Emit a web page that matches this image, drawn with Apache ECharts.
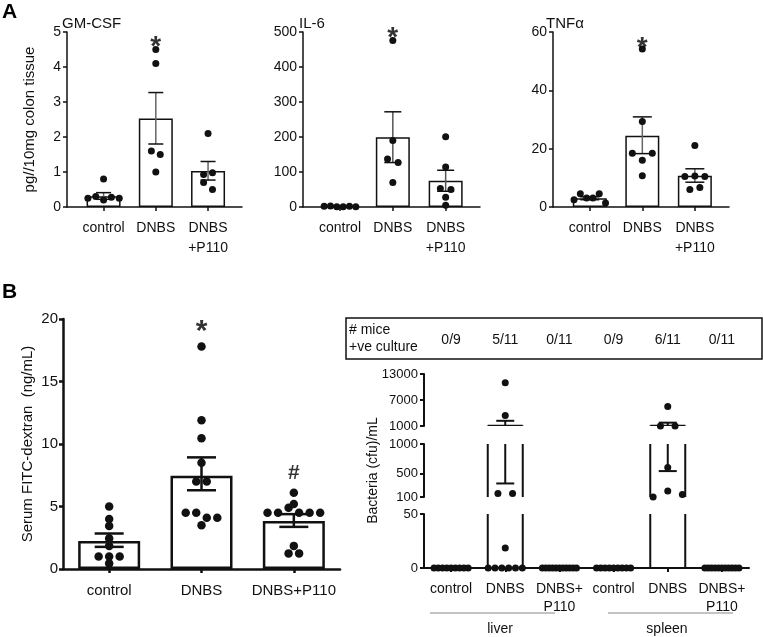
<!DOCTYPE html>
<html>
<head>
<meta charset="utf-8">
<script src="https://cdn.jsdelivr.net/npm/echarts@6/dist/echarts.min.js"></script>
<style>
  html, body { margin: 0; padding: 0; background: #fff; }
  #main { width: 763px; height: 637px; }
</style>
</head>
<body>
<div id="main"></div>
<script>
var chartDom = document.getElementById('main');
var myChart = echarts.init(chartDom);
var option;

var groups = ['control', 'DNBS', 'DNBS\n+P110'];

// Panel A - GM-CSF
var gmMean = [0.31, 2.53, 1.03];
var gmLow = [0.22, 1.8, 0.77];
var gmHigh = [0.41, 3.27, 1.3];
var gmDots = [
  [0.8, 0.25, 0.3, 0.2, 0.28, 0.25],
  [4.5, 4.1, 1.6, 1.5, 1.0],
  [2.1, 0.93, 0.98, 0.7, 0.5]
];

// Panel A - IL-6
var il6Mean = [2, 199, 75];
var il6Low = [1, 127, 45];
var il6High = [3, 272, 105];
var il6Dots = [
  [2, 3, 1, 0.5, 2, 1],
  [476, 190, 137, 127, 70],
  [201, 114, 53, 50, 28, 5]
];

// Panel A - TNFa
var tnfMean = [3.0, 24.4, 10.7];
var tnfLow = [2.5, 18.3, 8.5];
var tnfHigh = [3.5, 30.9, 13.1];
var tnfDots = [
  [2.5, 4.56, 3.1, 3.1, 4.56, 1.37],
  [54.2, 29.3, 18.4, 16, 18.4, 10.7],
  [21.1, 10.5, 10.6, 10.5, 6.0, 6.7]
];

// Panel B - FITC-dextran
var fitcGroups = ['control', 'DNBS', 'DNBS+P110'];
var fitcMean = [2.25, 7.46, 3.85];
var fitcLow = [1.77, 6.3, 3.37];
var fitcHigh = [2.84, 8.93, 4.39];
var fitcDots = [
  [5.0, 3.45, 4.0, 2.45, 1.85, 1.0, 1.0, 1.0, 0.45],
  [17.8, 11.9, 10.46, 8.5, 7.0, 7.0, 4.5, 4.5, 4.1, 4.1, 3.5],
  [6.1, 4.5, 5.2, 4.5, 4.9, 4.5, 4.5, 4.5, 1.85, 1.25, 1.25]
];

// Panel B - bacteria
var bactGroups = ['control', 'DNBS', 'DNBS+\nP110', 'control', 'DNBS', 'DNBS+\nP110'];
var cultures = ['0/9', '5/11', '0/11', '0/9', '6/11', '0/11'];
var bactMean = [0, 1080, 0, 0, 1080, 0];
var bactLow = [0, 330, 0, 0, 540, 0];
var bactHigh = [0, 2200, 0, 0, 1770, 0];
var bactDots = [
  [0, 0, 0, 0, 0, 0, 0, 0, 0],
  [11000, 3400, 160, 160, 18.6, 0, 0, 0, 0, 0, 0],
  [0, 0, 0, 0, 0, 0, 0, 0, 0, 0, 0],
  [0, 0, 0, 0, 0, 0, 0, 0, 0],
  [5500, 1010, 1010, 600, 100, 202, 141],
  [0, 0, 0, 0, 0, 0, 0, 0, 0, 0, 0]
];

var ink = '#111';
var font = 'Liberation Sans, Arial, sans-serif';

// dots with close values are set side by side in a row around the group centre
function swarm(lists, close, step, maxWidth) {
  var pts = [];
  lists.forEach(function (values, g) {
    var rows = [];
    values.forEach(function (v) {
      var row = rows.find(function (r) { return close(r[0], v); });
      if (row) row.push(v); else rows.push([v]);
    });
    rows.forEach(function (r) {
      var s = r.length > 1 ? Math.min(step, maxWidth / (r.length - 1)) : 0;
      r.forEach(function (v, k) {
        pts.push([g + 1 + (k - (r.length - 1) / 2) * s, v]);
      });
    });
  });
  return pts;
}

function errorSeries(idx, mean, low, high, cap, width, stemColor, outline) {
  var rows = [];
  mean.forEach(function (m, k) {
    if (!outline || m > 0) rows.push([k + 1, m, low[k], high[k]]);
  });
  return {
    type: 'custom',
    xAxisIndex: idx,
    yAxisIndex: idx,
    clip: true,
    z: 3,
    data: rows,
    encode: { x: 0, y: [1, 2, 3] },
    renderItem: function (params, api) {
      var x = api.value(0);
      var hi = api.coord([x, api.value(3)]);
      var lo = api.coord([x, api.value(2)]);
      var st = { stroke: ink, lineWidth: width };
      var kids = [
        { type: 'line', shape: { x1: hi[0], y1: hi[1], x2: lo[0], y2: lo[1] }, style: { stroke: stemColor, lineWidth: width } },
        { type: 'line', shape: { x1: hi[0] - cap / 2, y1: hi[1], x2: hi[0] + cap / 2, y2: hi[1] }, style: st },
        { type: 'line', shape: { x1: lo[0] - cap / 2, y1: lo[1], x2: lo[0] + cap / 2, y2: lo[1] }, style: st }
      ];
      if (outline) {
        var base = api.coord([x, 0]);
        var top = api.coord([x, api.value(1)]);
        var h = outline / 2;
        kids.push(
          { type: 'line', shape: { x1: base[0] - h, y1: base[1], x2: top[0] - h, y2: top[1] }, style: st },
          { type: 'line', shape: { x1: base[0] + h, y1: base[1], x2: top[0] + h, y2: top[1] }, style: st },
          { type: 'line', shape: { x1: top[0] - h, y1: top[1], x2: top[0] + h, y2: top[1] }, style: st }
        );
      }
      return { type: 'group', children: kids };
    }
  };
}

function catAxis(idx, min, max, labels, opts) {
  var ticks = labels.map(function (l, k) { return k + 1; });
  return {
    type: 'value', gridIndex: idx, min: min, max: max,
    splitLine: { show: false },
    axisLine: { show: true, onZero: false, lineStyle: { color: ink, width: opts.line } },
    axisTick: { show: true, length: 4, customValues: ticks, lineStyle: { color: ink, width: opts.line } },
    axisLabel: {
      customValues: ticks,
      formatter: function (v) { return labels[Math.round(v) - 1]; },
      margin: opts.margin, fontSize: opts.size, lineHeight: opts.lh, color: ink, fontFamily: font
    }
  };
}

function valAxis(idx, min, max, interval, opts) {
  var ax = {
    type: 'value', gridIndex: idx, min: min, max: max, interval: interval,
    splitLine: { show: false },
    axisLine: { show: true, lineStyle: { color: ink, width: opts.line } },
    axisTick: { show: true, length: 4, lineStyle: { color: ink, width: opts.line } },
    axisLabel: {
      margin: opts.margin, fontSize: opts.size, color: ink, fontFamily: font,
      formatter: function (v) { return String(v); }
    }
  };
  if (opts.custom) {
    delete ax.interval;
    ax.axisTick.customValues = opts.custom;
    ax.axisLabel.customValues = opts.custom;
  }
  if (opts.name) {
    ax.name = opts.name;
    ax.nameLocation = 'middle';
    ax.nameGap = opts.nameGap;
    ax.nameTextStyle = { fontSize: opts.nameSize, color: ink, fontFamily: font };
  }
  return ax;
}

function barSeries(idx, mean, width, border) {
  return {
    type: 'bar', xAxisIndex: idx, yAxisIndex: idx, z: 2,
    barWidth: width,
    data: mean.map(function (m, k) { return [k + 1, m]; }),
    itemStyle: { color: '#fff', borderColor: ink, borderWidth: border }
  };
}

function dotSeries(idx, pts, size) {
  return {
    type: 'scatter', xAxisIndex: idx, yAxisIndex: idx, z: 4,
    symbolSize: size, data: pts, clip: false,
    itemStyle: { color: '#111', opacity: 1 }
  };
}

function markSeries(idx, pts, text, size) {
  return {
    type: 'scatter', xAxisIndex: idx, yAxisIndex: idx, z: 5,
    symbolSize: 1, data: pts,
    itemStyle: { color: 'rgba(0,0,0,0)' },
    label: { show: true, position: 'inside', formatter: text, fontSize: size, fontWeight: 'bold', color: '#000', fontFamily: font }
  };
}

function nearA(range) {
  return function (a, b) { return Math.abs(a - b) < range * 0.04; };
}
// rough height in px over the broken bacteria axis, only used to spot overlapping dots
function bactHeight(v) {
  if (v <= 50) return v / 50 * 54;
  if (v <= 1000) return 70 + (v - 100) / 900 * 53;
  return 140 + (v - 1000) / 12000 * 52;
}
function nearBact(a, b) {
  return Math.abs(bactHeight(a) - bactHeight(b)) < 7;
}

var aX = { line: 1.5, margin: 11, size: 14, lh: 20 };
var bactPts = swarm(bactDots, nearBact, 0.27, 0.63);

option = {
  animation: false,
  backgroundColor: '#fff',
  textStyle: { fontFamily: font },
  title: [
    { text: 'GM-CSF', left: 62, top: 16, padding: 0, textStyle: { fontSize: 15, fontWeight: 'normal', color: ink, fontFamily: font } },
    { text: 'IL-6', left: 299, top: 16, padding: 0, textStyle: { fontSize: 15, fontWeight: 'normal', color: ink, fontFamily: font } },
    { text: 'TNFα', left: 546, top: 16, padding: 0, textStyle: { fontSize: 15, fontWeight: 'normal', color: ink, fontFamily: font } }
  ],
  grid: [
    { left: 67, top: 32, width: 175, height: 175 },
    { left: 303, top: 32, width: 177, height: 175 },
    { left: 553, top: 32, width: 176, height: 175 },
    { left: 63, top: 319, width: 277, height: 250 },
    { left: 424, top: 374, width: 325, height: 52 },
    { left: 424, top: 444, width: 325, height: 53 },
    { left: 424, top: 514, width: 325, height: 54 }
  ],
  xAxis: [
    catAxis(0, 0.3, 3.65, groups, aX),
    catAxis(1, 0.3, 3.65, groups, aX),
    catAxis(2, 0.3, 3.65, groups, aX),
    catAxis(3, 0.5, 3.5, fitcGroups, { line: 2.5, margin: 13, size: 15, lh: 18 }),
    { type: 'value', gridIndex: 4, min: 0.5, max: 6.5, show: false },
    { type: 'value', gridIndex: 5, min: 0.5, max: 6.5, show: false },
    catAxis(6, 0.5, 6.5, bactGroups, { line: 2, margin: 12, size: 14, lh: 18 }),
    {
      type: 'value', gridIndex: 4, min: 0.5, max: 6.5, position: 'top',
      splitLine: { show: false }, axisLine: { show: false }, axisTick: { show: false },
      axisLabel: {
        customValues: [1, 2, 3, 4, 5, 6],
        formatter: function (v) { return cultures[Math.round(v) - 1]; },
        margin: 27, fontSize: 14, color: ink, fontFamily: font
      }
    }
  ],
  yAxis: [
    valAxis(0, 0, 5, 1, { line: 1.5, margin: 6, size: 14, name: 'pg//10mg colon tissue', nameGap: 30, nameSize: 15 }),
    valAxis(1, 0, 500, 100, { line: 1.5, margin: 6, size: 14 }),
    valAxis(2, 0, 60, 20, { line: 1.5, margin: 6, size: 14 }),
    valAxis(3, 0, 20, 5, { line: 2.5, margin: 5, size: 15, name: 'Serum FITC-dextran  (ng/mL)', nameGap: 28, nameSize: 15 }),
    valAxis(4, 1000, 13000, null, { line: 2, margin: 6, size: 13, custom: [1000, 7000, 13000] }),
    valAxis(5, 100, 1000, null, { line: 2, margin: 6, size: 13, custom: [100, 500, 1000], name: 'Bacteria (cfu)/mL', nameGap: 44, nameSize: 14 }),
    valAxis(6, 0, 50, 50, { line: 2, margin: 6, size: 13 })
  ],
  graphic: [
    { type: 'text', left: 2, top: 2, style: { text: 'A', fontSize: 21, fontWeight: 'bold', fill: '#000', fontFamily: font } },
    { type: 'text', left: 2, top: 282, style: { text: 'B', fontSize: 21, fontWeight: 'bold', fill: '#000', fontFamily: font } },
    { type: 'rect', shape: { x: 346, y: 318, width: 416, height: 41 }, style: { fill: 'none', stroke: ink, lineWidth: 1.5 } },
    { type: 'text', left: 349, top: 322, style: { text: '# mice\n+ve culture', fontSize: 14, lineHeight: 17, fill: ink, fontFamily: font } },
    { type: 'line', shape: { x1: 430, y1: 613, x2: 555, y2: 613 }, style: { stroke: '#888', lineWidth: 1 } },
    { type: 'line', shape: { x1: 608, y1: 613, x2: 733, y2: 613 }, style: { stroke: '#888', lineWidth: 1 } },
    { type: 'text', x: 500, y: 629, style: { text: 'liver', fontSize: 14, fill: ink, align: 'center', verticalAlign: 'middle', fontFamily: font } },
    { type: 'text', x: 667, y: 629, style: { text: 'spleen', fontSize: 14, fill: ink, align: 'center', verticalAlign: 'middle', fontFamily: font } }
  ],
  series: [
    barSeries(0, gmMean, 34, 1.5),
    errorSeries(0, gmMean, gmLow, gmHigh, 15, 1.5, '#666'),
    dotSeries(0, swarm(gmDots, nearA(5), 0.17, 0.6), 7),
    markSeries(0, [[2, 4.56]], '*', 28),

    barSeries(1, il6Mean, 34, 1.5),
    errorSeries(1, il6Mean, il6Low, il6High, 17, 1.5, '#555'),
    dotSeries(1, swarm(il6Dots, nearA(500), 0.2, 0.6), 7),
    markSeries(1, [[2, 482]], '*', 28),

    barSeries(2, tnfMean, 34, 1.5),
    errorSeries(2, tnfMean, tnfLow, tnfHigh, 19, 1.5, '#666'),
    dotSeries(2, swarm(tnfDots, nearA(60), 0.19, 0.6), 7),
    markSeries(2, [[2, 54.5]], '*', 28),

    barSeries(3, fitcMean, 62, 2.5),
    errorSeries(3, fitcMean, fitcLow, fitcHigh, 29, 2.5, ink),
    dotSeries(3, swarm(fitcDots, function (a, b) { return Math.abs(a - b) < 0.5; }, 0.114, 0.62), 8.5),
    markSeries(3, [[2, 19.0]], '*', 30),
    markSeries(3, [[3, 7.7]], '#', 21),

    errorSeries(4, bactMean, bactLow, bactHigh, 18, 2, ink, 35),
    errorSeries(5, bactMean, bactLow, bactHigh, 18, 2, ink, 35),
    errorSeries(6, bactMean, bactLow, bactHigh, 18, 2, ink, 35),
    dotSeries(4, bactPts.filter(function (p) { return p[1] > 1000; }), 7),
    dotSeries(5, bactPts.filter(function (p) { return p[1] >= 100 && p[1] <= 1000; }), 7),
    dotSeries(6, bactPts.filter(function (p) { return p[1] <= 50; }), 7)
  ]
};

option && myChart.setOption(option);
</script>
</body>
</html>
